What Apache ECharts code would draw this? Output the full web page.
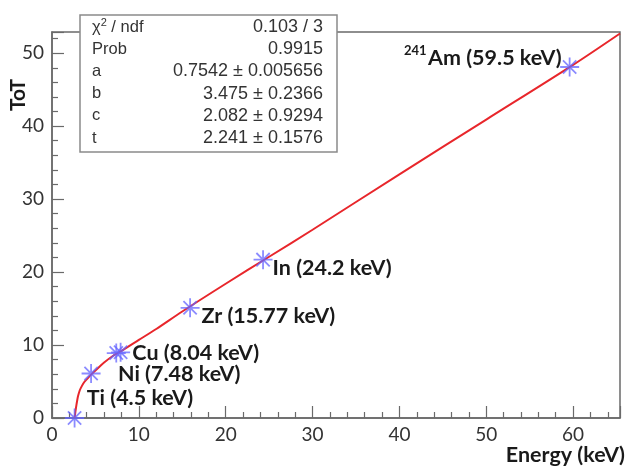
<!DOCTYPE html>
<html><head><meta charset="utf-8">
<script src="https://cdn.jsdelivr.net/npm/echarts@6/dist/echarts.min.js"></script>
<style>html,body{margin:0;padding:0;background:#fff}#c{width:627px;height:466px}</style>
</head><body><div id="c"></div>
<script>
// measured points (Energy keV, ToT)
const pointE   = [2.6, 4.5, 7.4, 7.9, 15.9, 24.3, 59.6];
const pointToT = [0.0, 6.1, 8.9, 9.0, 15.1, 21.7, 48.1];
// fit curve
const curveE   = [2.6, 2.7, 2.8, 2.9, 3.0, 3.2, 3.4, 3.7, 4.0, 4.5, 5.0, 6.0, 7.0, 8.0, 10, 12, 15, 20, 25, 30, 40, 50, 60, 65.4];
const curveToT = [0.0, 0.9, 1.7, 2.4, 3.0, 3.8, 4.3, 4.9, 5.3, 5.95, 6.5, 7.6, 8.5, 9.2, 10.7, 12.2, 14.6, 18.4, 22.1, 25.8, 33.4, 40.9, 48.4, 52.7];
// annotations: text and anchor (left edge, middle) in data units
const annoText = ["Ti (4.5 keV)", "Ni (7.48 keV)", "Cu (8.04 keV)", "Zr (15.77 keV)", "In (24.2 keV)", "Am (59.5 keV)"];
const annoE    = [4.0, 7.6, 9.25, 17.2, 25.4, 43.3];
const annoToT  = [2.8, 6.0, 8.9, 13.95, 20.5, 49.3];
// stats box
const statNames  = ["χ² / ndf", "Prob", "a", "b", "c", "t"];
const statValues = ["0.103 / 3", "0.9915", "0.7542 ± 0.005656", "3.475 ± 0.2366", "2.082 ± 0.9294", "2.241 ± 0.1576"];
const xTicks = [0, 10, 20, 30, 40, 50, 60];
const yTicks = [0, 10, 20, 30, 40, 50];

const chart = echarts.init(document.getElementById('c'), null, {renderer: 'canvas'});
const axisCommon = {
  axisLine: {show: true, lineStyle: {color: '#6a6a6a', width: 1.5}},
  axisTick: {show: true, inside: true, length: 12, lineStyle: {color: '#6a6a6a', width: 1.2}},
  minorTick: {show: true, splitNumber: 5, length: 6, lineStyle: {color: '#6a6a6a', width: 1.2}},
  splitLine: {show: false},
  axisLabel: {color: '#333', fontSize: 19, fontFamily: 'Lato', showMaxLabel: false}
};
const statGraphics = [];
statGraphics.push({type: 'rect', shape: {x: 80, y: 15, width: 257, height: 137},
  style: {fill: '#fff', stroke: '#8a8a8a', lineWidth: 1.5}, z: 100});
statNames.forEach((n, i) => {
  const y = 27 + i * 22.2;
  statGraphics.push({type: 'text', x: 92, y: y, z: 101,
    style: {text: n === "χ² / ndf" ? '{a|χ}{s|2}{a| / ndf}' : n, rich: {a: {fontSize: 16.5, fontFamily: 'Liberation Sans', fill: '#333'}, s: {fontSize: 11, fontFamily: 'Liberation Sans', fill: '#333', verticalAlign: 'top', padding: [0,0,8,0]}},
      fontSize: 16.5, fontFamily: 'Liberation Sans', fill: '#333', verticalAlign: 'middle', align: 'left'}});
  statGraphics.push({type: 'text', x: 323, y: y, z: 101,
    style: {text: statValues[i], fontSize: 18, fontFamily: 'Liberation Sans', fill: '#333', verticalAlign: 'middle', align: 'right'}});
});
chart.setOption({
  animation: false,
  grid: {left: 52, right: 7, top: 32, bottom: 48, show: true, borderColor: '#6a6a6a', borderWidth: 1.5},
  xAxis: Object.assign({type: 'value', min: 0, max: 65.4, interval: 10}, axisCommon,
    {axisLabel: Object.assign({}, axisCommon.axisLabel, {margin: 7})}),
  yAxis: Object.assign({type: 'value', min: 0, max: 52.9, interval: 10}, axisCommon,
    {axisLabel: Object.assign({}, axisCommon.axisLabel, {margin: 8})}),
  series: [
    {type: 'line', data: curveE.map((e, i) => [e, curveToT[i]]), smooth: 0.3, showSymbol: false,
      lineStyle: {color: '#e8262b', width: 2}, z: 2},
    {type: 'scatter', data: pointE.map((e, i) => [e, pointToT[i]]),
      symbol: 'path://M10,0L10,20M0,10L20,10M3,3L17,17M3,17L17,3', symbolSize: 19,
      itemStyle: {color: 'rgba(0,0,0,0)', borderColor: 'rgba(100,100,255,0.75)', borderWidth: 1.8, opacity: 1}, z: 3},
    {type: 'scatter', data: annoE.map((e, i) => ({value: [e, annoToT[i]], name: annoText[i]})),
      symbolSize: 0, silent: true, z: 4, itemStyle: {opacity: 1},
      label: {show: true, position: 'right', distance: 0, opacity: 1,
        formatter: p => p.name,
        fontSize: 21.5, fontWeight: 'bold', fontFamily: 'Lato', color: '#1a1a1a'}}
  ],
  graphic: statGraphics.concat([
    {type: 'text', x: 18, y: 95, rotation: Math.PI / 2, z: 50,
      style: {text: 'ToT', fontSize: 21, fontWeight: 'bold', fontFamily: 'Lato', fill: '#1a1a1a', align: 'center', verticalAlign: 'middle'}},
    {type: 'text', x: 625, y: 455, z: 50,
      style: {text: 'Energy (keV)', fontSize: 21.5, fontWeight: 'bold', fontFamily: 'Lato', fill: '#1a1a1a', align: 'right', verticalAlign: 'middle'}},
    {type: 'text', x: 404, y: 51, z: 50,
      style: {text: '241', fontSize: 13, fontWeight: 'bold', fontFamily: 'Lato', fill: '#1a1a1a', align: 'left', verticalAlign: 'middle'}}
  ])
});
</script></body></html>
